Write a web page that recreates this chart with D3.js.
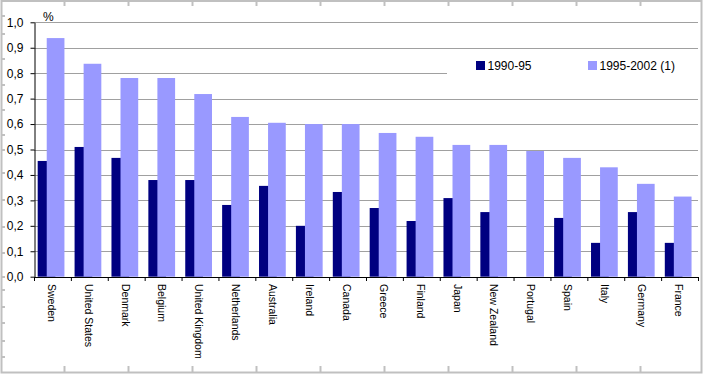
<!DOCTYPE html>
<html>
<head>
<meta charset="utf-8">
<script src="https://cdn.jsdelivr.net/npm/d3@7"></script>
<style>
  body { margin: 0; background: #fff; }
  svg { display: block; font-family: "Liberation Sans", Arial, sans-serif; }
</style>
</head>
<body>
<div id="chart"></div>
<script>
const categories = ["Sweden", "United States", "Denmark", "Belgium", "United Kingdom", "Netherlands",
  "Australia", "Ireland", "Canada", "Greece", "Finland", "Japan", "New Zealand", "Portugal",
  "Spain", "Italy", "Germany", "France"];
const values1990 = [0.455, 0.51, 0.467, 0.38, 0.38, 0.282, 0.357, 0.2, 0.333, 0.27, 0.219, 0.309,
  0.254, null, 0.231, 0.133, 0.254, 0.133];
const values1995 = [0.938, 0.837, 0.781, 0.781, 0.718, 0.628, 0.605, 0.6, 0.6, 0.565, 0.55, 0.518,
  0.518, 0.494, 0.467, 0.43, 0.365, 0.315];
const seriesNames = ["1990-95", "1995-2002 (1)"];
const yTicks = [0, 0.1, 0.2, 0.3, 0.4, 0.5, 0.6, 0.7, 0.8, 0.9, 1.0];

const width = 706, height = 376;
const colors = ["#000080", "#9999ff"];

const svg = d3.select("#chart").append("svg")
  .attr("width", width)
  .attr("height", height);

svg.append("rect").attr("width", width).attr("height", height).attr("fill", "#fff");

// outer frame with ruler marks
const frame = svg.append("g").attr("stroke", "#c0c0c0").attr("stroke-width", 2).attr("fill", "none");
frame.append("rect").attr("x", 1.5).attr("y", 1).attr("width", 700).attr("height", 371.5);
const rulerX = d3.range(64.5, 700, 64);
const rulerY = [16, 34, 59, 85, 110, 135, 150, 173, 200, 227, 253, 277, 290, 307, 323, 341, 357];
rulerX.forEach(px => {
  frame.append("line").attr("x1", px).attr("x2", px).attr("y1", 1).attr("y2", 6);
  frame.append("line").attr("x1", px).attr("x2", px).attr("y1", 372).attr("y2", 366);
});
rulerY.forEach(py => {
  frame.append("line").attr("x1", 1).attr("x2", 5).attr("y1", py).attr("y2", py);
});

const y = d3.scaleLinear().domain([0, 1]).range([276.7, 22.3]);
const x = d3.scaleBand().domain(categories).range([34, 698]).padding(0);
const bw = x.bandwidth();

// gridlines
svg.append("g")
  .selectAll("line")
  .data(yTicks.slice(1))
  .join("line")
  .attr("x1", 34).attr("x2", 698)
  .attr("y1", d => Math.round(y(d)) + 0.5).attr("y2", d => Math.round(y(d)) + 0.5)
  .attr("stroke", "#a0a0a0").attr("stroke-width", 1);

// legend background
svg.append("rect").attr("x", 447).attr("y", 55).attr("width", 251).attr("height", 37).attr("fill", "#fff");

// bars
const barW = bw * 0.48;
const offsets = [bw * 0.1, bw * 0.345];
[values1990, values1995].forEach((vals, s) => {
  svg.append("g")
    .selectAll("rect")
    .data(categories.map((c, i) => ({ c, v: vals[i] })).filter(d => d.v != null))
    .join("rect")
    .attr("x", d => x(d.c) + offsets[s])
    .attr("y", d => y(d.v))
    .attr("width", barW)
    .attr("height", d => y(0) - y(d.v))
    .attr("fill", colors[s]);
});

// y axis
const yAxis = svg.append("g")
  .attr("transform", "translate(34.5,0)")
  .call(d3.axisLeft(y).tickValues(yTicks).tickSize(4).tickSizeOuter(0).tickPadding(7)
    .tickFormat(d => d3.format(".1f")(d).replace(".", ",")));
yAxis.selectAll("text").attr("font-size", 12).attr("fill", "#000").attr("font-family", "Liberation Sans, Arial, sans-serif");
yAxis.selectAll("line, path").attr("stroke", "#000");

// x axis, ticks at category boundaries
const xi = d3.scaleLinear().domain([0, categories.length]).range([34, 698]);
const xAxis = svg.append("g")
  .attr("transform", "translate(0,277)")
  .call(d3.axisBottom(xi).tickValues(d3.range(0, categories.length + 1)).tickSize(4).tickSizeOuter(0).tickFormat(""));
xAxis.selectAll("line, path").attr("stroke", "#000");

// category labels
svg.append("g")
  .selectAll("text")
  .data(categories)
  .join("text")
  .attr("transform", d => `translate(${x(d) + bw / 2 - 1},284) rotate(90)`)
  .attr("dy", "0.35em")
  .attr("font-size", 10.5)
  .attr("fill", "#000")
  .text(d => d);

svg.append("text").attr("x", 43).attr("y", 21).attr("font-size", 12).text("%");

// legend
const legendX = [476, 588];
seriesNames.forEach((name, i) => {
  svg.append("rect").attr("x", legendX[i]).attr("y", 61).attr("width", 9).attr("height", 9).attr("fill", colors[i]);
  svg.append("text").attr("x", legendX[i] + 11.5).attr("y", 69.5).attr("font-size", 12).text(name);
});
</script>
</body>
</html>
